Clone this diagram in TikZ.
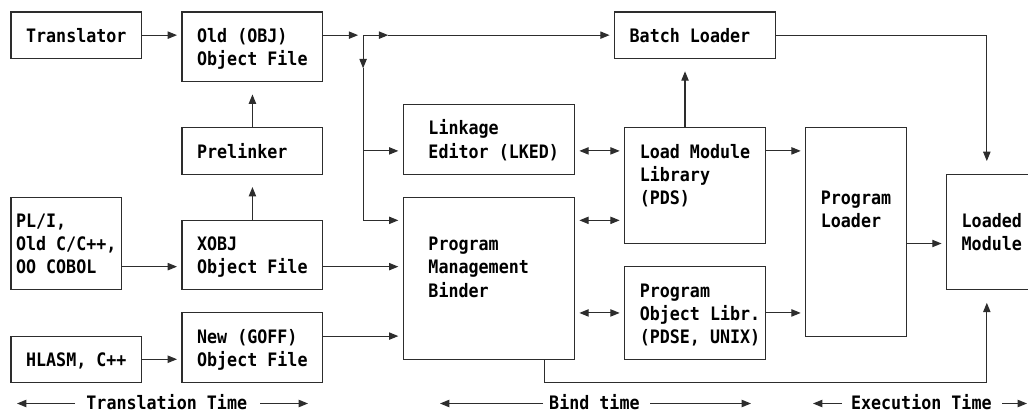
\documentclass[tikz,border=0pt]{standalone}
\usepackage{fontspec}
\newfontfamily\diafont[FakeStretch=0.9]{DejaVu Sans Mono}
\usetikzlibrary{arrows.meta}
\definecolor{linec}{RGB}{45,45,45}
\tikzset{
  declare function={cx(\c)=11+10.06*\c; ry(\r)=12+23.15*\r;},
  box/.style={draw=linec, line width=0.8pt, inner sep=0pt, outer sep=0pt},
  txt/.style={anchor=base west, inner sep=0pt, outer sep=0pt, text=black,
              font=\diafont\bfseries\fontsize{13.9pt}{17pt}\selectfont},
  conn/.style={draw=linec, line width=0.8pt},
  arr/.style={conn, -{Triangle[length=7pt,width=5.5pt]}, shorten >=3.75pt},
  varr/.style={conn, -{Triangle[length=7pt,width=5.5pt]}, shorten >=9.75pt},
  darr/.style={conn, {Triangle[length=7pt,width=5.5pt]}-{Triangle[length=7pt,width=5.5pt]},
               shorten >=3.75pt, shorten <=3.75pt},
  tarr/.style={conn, -{Triangle[length=7pt,width=5.5pt]}},
}
\newcommand{\diabox}[5]{\node[box, anchor=north west,
  minimum width={(cx(#4)-cx(#2))*0.75pt},
  minimum height={(ry(#5)-ry(#3))*0.75pt}] (#1) at ({cx(#2)},{ry(#3)}) {};}
\newcommand{\diatext}[4]{\node[txt] (#1) at ({cx(#2)-5.03},{ry(#3)+7.2}) {#4};}
\begin{document}
\begin{tikzpicture}[x=0.75pt,y=-0.75pt]
\useasboundingbox (0,0) rectangle (1028,413);
\clip (0,0) rectangle (1028,413);
% grid coordinates
\foreach \r in {1,6,9,10,11,13,14,15,16} {\coordinate (R\r) at (0,{ry(\r)});}
\foreach \c in {35,53,67,97} {\coordinate (C\c) at ({cx(\c)},0);}
% boxes
\diabox{trans}{0}{0}{13}{2}
\diabox{old}{17}{0}{31}{3}
\diabox{prel}{17}{5}{31}{7}
\diabox{pli}{0}{8}{11}{12}
\diabox{xobj}{17}{9}{31}{12}
\diabox{hlasm}{0}{14}{13}{16}
\diabox{goff}{17}{13}{31}{16}
\diabox{batch}{60}{0}{76}{2}
\diabox{lked}{39}{4}{56}{7}
\diabox{binder}{39}{8}{56}{15}
\diabox{lml}{61}{5}{75}{10}
\diabox{pol}{61}{11}{75}{15}
\diabox{pload}{79}{5}{89}{14}
\diabox{loaded}{93}{7}{103}{12}
% texts
\diatext{trans-t}{2}{1}{Translator}
\diatext{old-t1}{19}{1}{Old (OBJ)}
\diatext{old-t2}{19}{2}{Object File}
\diatext{prel-t}{19}{6}{Prelinker}
\diatext{pli-t1}{1}{9}{PL/I,}
\diatext{pli-t2}{1}{10}{Old C/C++,}
\diatext{pli-t3}{1}{11}{OO COBOL}
\diatext{xobj-t1}{19}{10}{XOBJ}
\diatext{xobj-t2}{19}{11}{Object File}
\diatext{hlasm-t}{2}{15}{HLASM, C++}
\diatext{goff-t1}{19}{14}{New (GOFF)}
\diatext{goff-t2}{19}{15}{Object File}
\diatext{batch-t}{62}{1}{Batch Loader}
\diatext{lked-t1}{42}{5}{Linkage}
\diatext{lked-t2}{42}{6}{Editor (LKED)}
\diatext{binder-t1}{42}{10}{Program}
\diatext{binder-t2}{42}{11}{Management}
\diatext{binder-t3}{42}{12}{Binder}
\diatext{lml-t1}{63}{6}{Load Module}
\diatext{lml-t2}{63}{7}{Library}
\diatext{lml-t3}{63}{8}{(PDS)}
\diatext{pol-t1}{63}{12}{Program}
\diatext{pol-t2}{63}{13}{Object Libr.}
\diatext{pol-t3}{63}{14}{(PDSE, UNIX)}
\diatext{pload-t1}{81}{8}{Program}
\diatext{pload-t2}{81}{9}{Loader}
\diatext{loaded-t1}{95}{9}{Loaded}
\diatext{loaded-t2}{95}{10}{Module}
% junction coordinates
\coordinate (j1) at (C35 |- R1);
\coordinate (j2) at ({cx(37)+5},{ry(1)});
\coordinate (j3) at ({cx(35)},{ry(2)+10});
\coordinate (j4) at (C35 |- R9);
\coordinate (j5) at (C35 |- R6);
% connectors
\draw[arr] (trans.east) -- (old.west |- trans.east);
\draw[arr] (old.east |- R1) -- (j1);
\draw[tarr] (j1) -- (j2);
\draw[arr] (j2) -- (batch.west |- R1);
\draw[tarr] (j1) -- (j3);
\draw[conn] (j3) -- (j4);
\draw[arr] (j5) -- (lked.west |- R6);
\draw[arr] (j4) -- (binder.west |- R9);
\draw[varr] (prel.north) -- (old.south);
\draw[varr] (xobj.north) -- (prel.south);
\draw[arr] (pli.east |- R11) -- (xobj.west |- R11);
\draw[arr] (xobj.east |- R11) -- (binder.west |- R11);
\draw[arr] (hlasm.east |- R15) -- (goff.west |- R15);
\draw[arr] (goff.east |- R14) -- (binder.west |- R14);
\draw[darr] (lked.east |- R6) -- (lml.west |- R6);
\draw[darr] (binder.east |- R9) -- (lml.west |- R9);
\draw[darr] (binder.east |- R13) -- (pol.west |- R13);
\draw[varr] (lml.north -| C67) -- (batch.south -| C67);
\draw[varr] (batch.east |- R1) -| (loaded.north -| C97);
\draw[arr] (lml.east |- R6) -- (pload.west |- R6);
\draw[arr] (pol.east |- R13) -- (pload.west |- R13);
\draw[arr] (pload.east |- R10) -- (loaded.west |- R10);
\draw[varr] (binder.south -| C53) |- (C97 |- R16) -- (loaded.south -| C97);
% time lines
\node[txt] (tt) at ({cx(8)-5.03},409.5) {Translation Time};
\node[txt] (bt) at ({cx(54)-5.03},409.5) {Bind time};
\node[txt] (et) at ({cx(84)-5.03},409.5) {Execution Time};
\coordinate (ttA) at (75,403.5);  \coordinate (ttB) at (17,403.5);
\coordinate (ttC) at (260,403.5); \coordinate (ttD) at (308,403.5);
\coordinate (btA) at (543,403.5); \coordinate (btB) at (440,403.5);
\coordinate (btC) at (650,403.5); \coordinate (btD) at (751,403.5);
\coordinate (etA) at (842,403.5); \coordinate (etB) at (813,403.5);
\coordinate (etC) at (1002,403.5); \coordinate (etD) at (1027,403.5);
\draw[tarr] (ttA) -- (ttB);
\draw[tarr] (ttC) -- (ttD);
\draw[tarr] (btA) -- (btB);
\draw[tarr] (btC) -- (btD);
\draw[tarr] (etA) -- (etB);
\draw[tarr] (etC) -- (etD);
\end{tikzpicture}
\end{document}
